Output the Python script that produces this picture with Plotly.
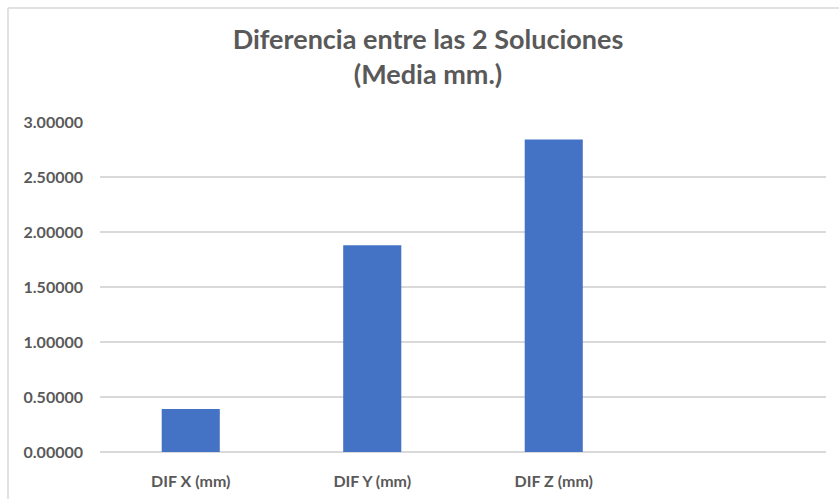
import plotly.graph_objects as go

categories = ["DIF X (mm)", "DIF Y (mm)", "DIF Z (mm)"]
values = [0.39, 1.88, 2.84]
y_ticks = [0, 0.5, 1.0, 1.5, 2.0, 2.5, 3.0]

GRID = "#d9d9d9"
TXT = "#595959"

fig = go.Figure(go.Bar(x=categories, y=values, marker=dict(color="#4472C4", line=dict(width=0)),
                       width=0.32))

L, R, T, B = 100, 13, 121.5, 47.3
W, H = 839, 499
pw, ph = W - L - R, H - T - B

def px_x(px):
    return (px - L) / pw

def px_y(py):
    return (H - B - py) / ph

fig.update_layout(
    width=W, height=H,
    margin=dict(l=L, r=R, t=T, b=B, pad=0, autoexpand=False),
    paper_bgcolor="white", plot_bgcolor="white",
    showlegend=False,
    title=dict(text="Diferencia entre las 2 Soluciones<br>(Media mm.)",
               x=428 / W, xref="container", xanchor="center",
               y=1 - 49 / H, yref="container", yanchor="top", automargin=False,
               font=dict(family="Lato", size=27, color=TXT, weight="bold")),
    xaxis=dict(type="category", categoryorder="array", categoryarray=categories,
               range=[-0.5, 3.5], showgrid=False, zeroline=False, showline=False,
               ticks="", ticklabelstandoff=18, automargin=False,
               tickfont=dict(family="Lato", size=16, color=TXT, weight="bold")),
    yaxis=dict(range=[0, 3.0], tickvals=y_ticks, tickformat=".5f",
               showgrid=True, gridcolor=GRID, gridwidth=1.5,
               zeroline=True, zerolinecolor=GRID, zerolinewidth=1.5,
               showline=False, ticks="", ticklabelstandoff=16, automargin=False,
               tickfont=dict(family="Lato", size=16, color=TXT, weight="bold")),
    shapes=[
        dict(type="line", xref="paper", yref="paper",
             x0=px_x(8), x1=px_x(8), y0=px_y(520), y1=px_y(7.5),
             line=dict(color=GRID, width=1.5)),
        dict(type="line", xref="paper", yref="paper",
             x0=px_x(8), x1=px_x(860), y0=px_y(7.5), y1=px_y(7.5),
             line=dict(color=GRID, width=1.5)),
    ],
)

fig.write_html("out.html")
